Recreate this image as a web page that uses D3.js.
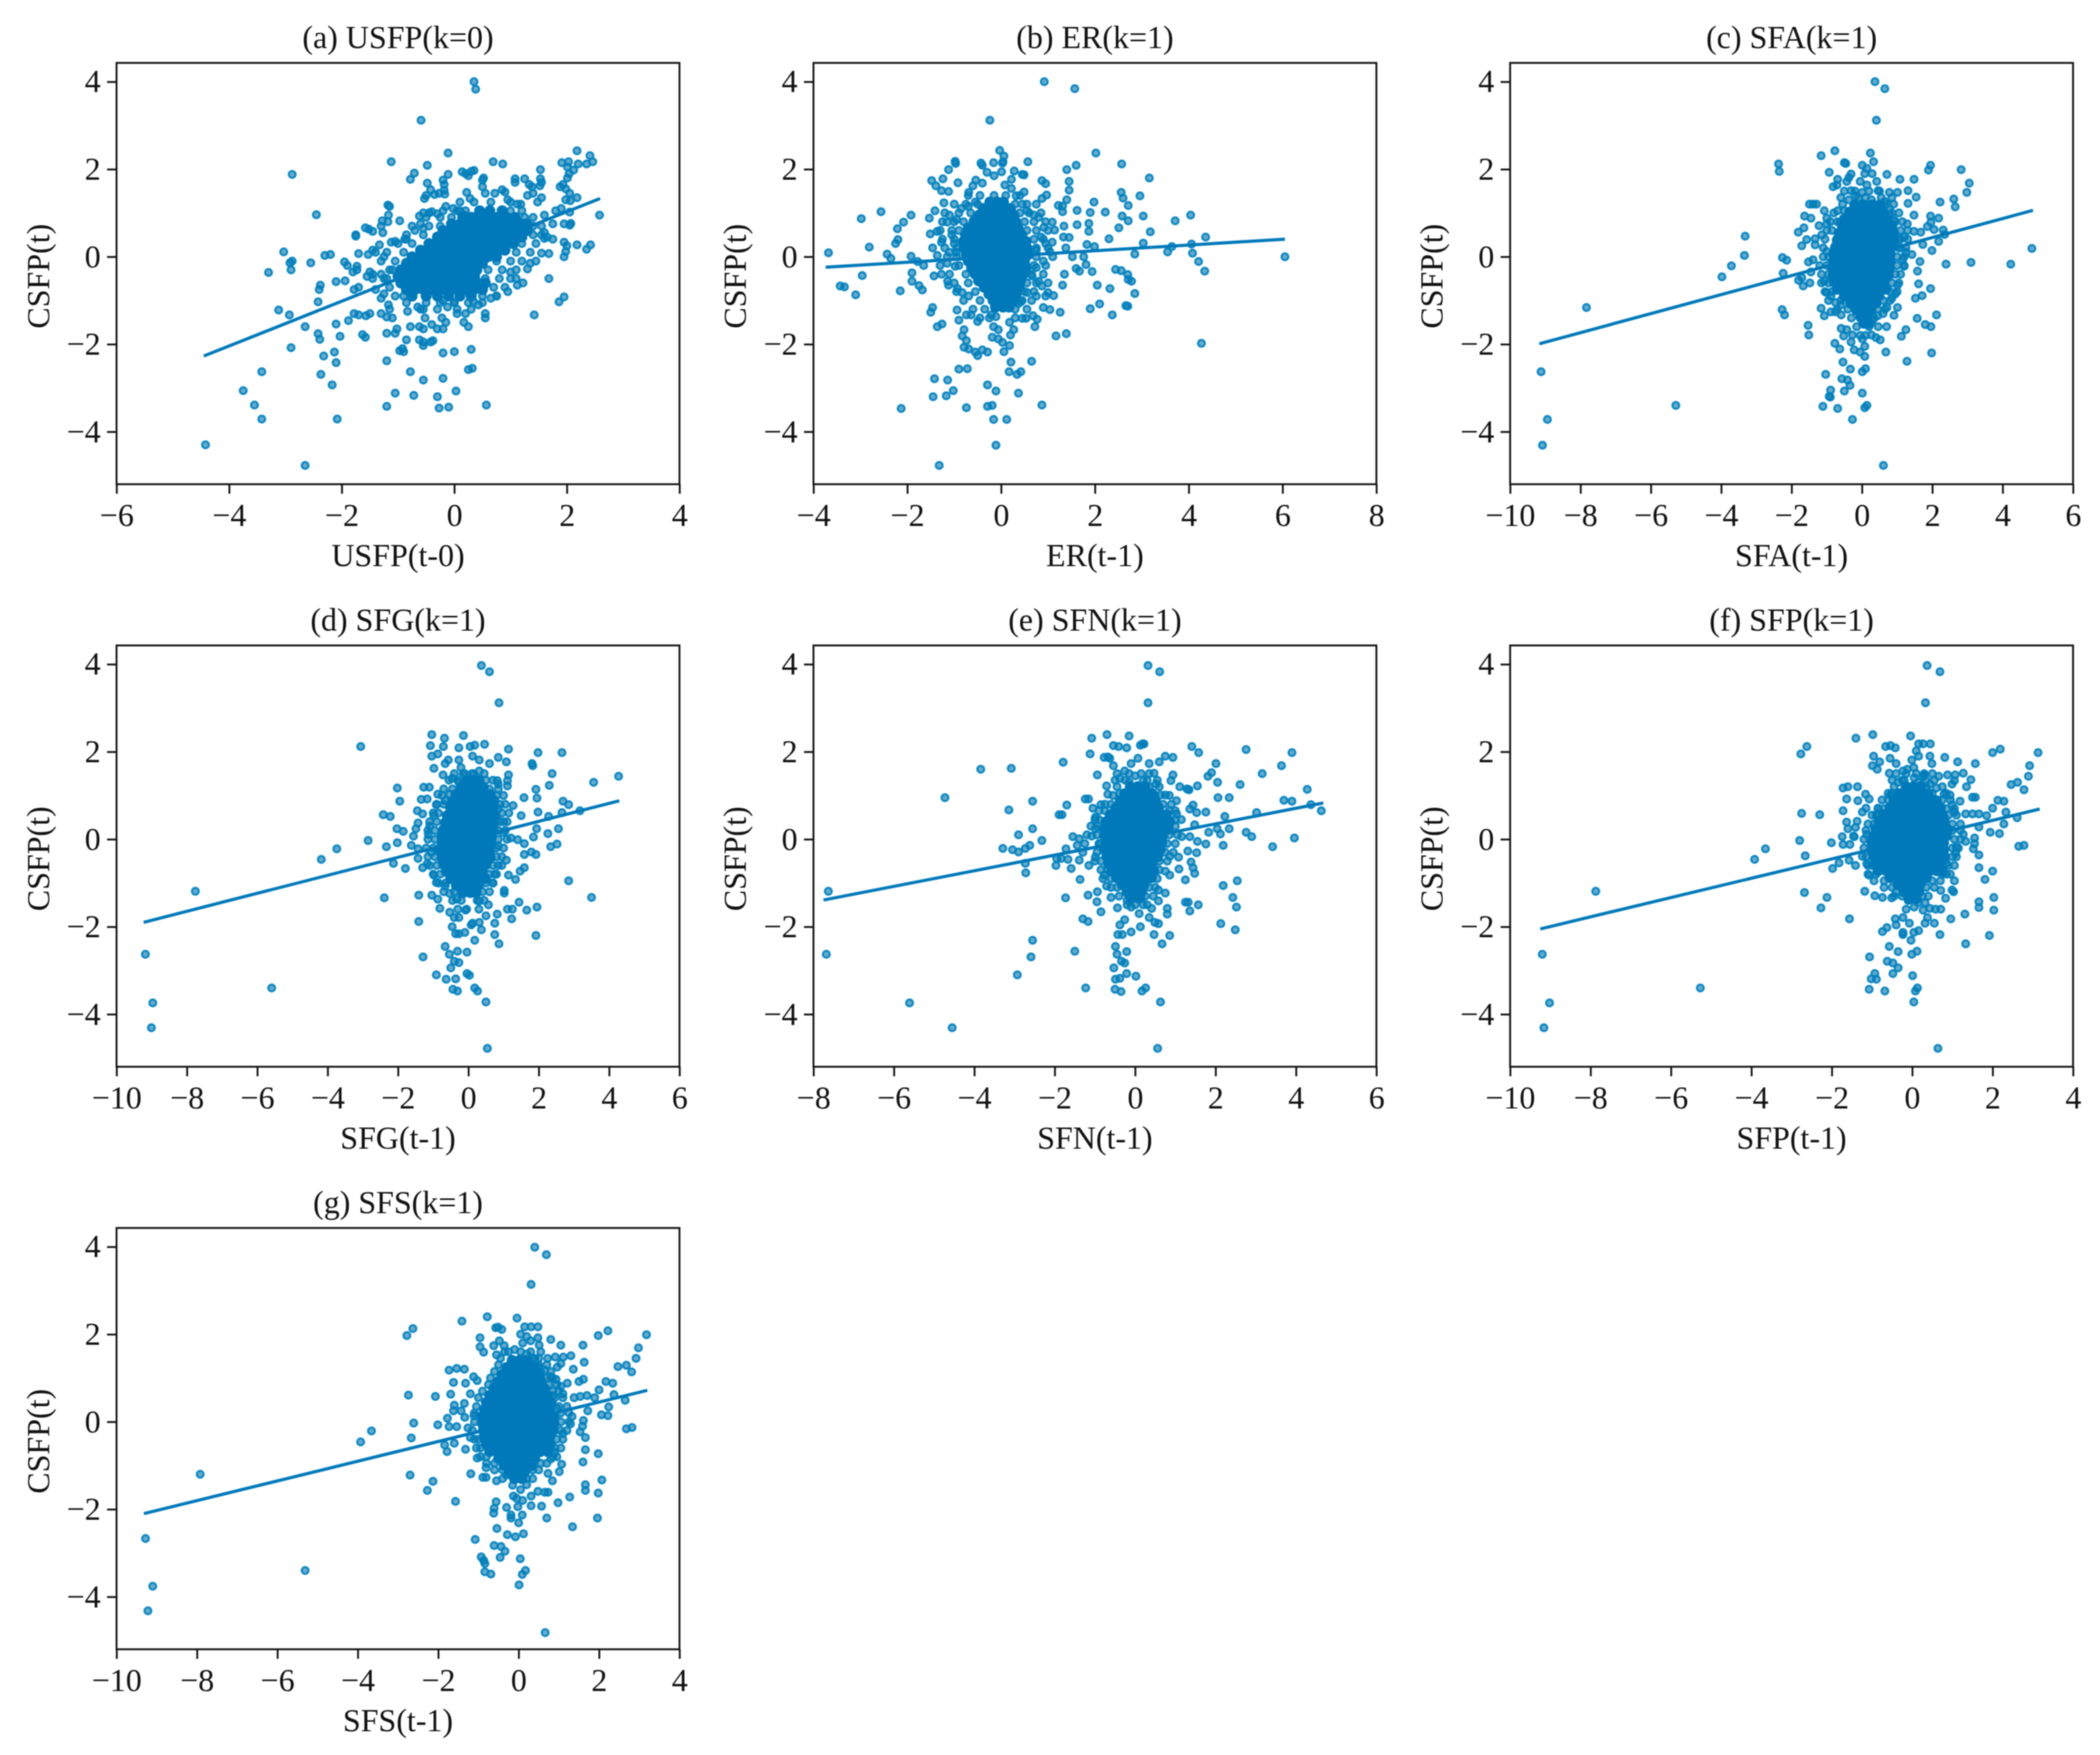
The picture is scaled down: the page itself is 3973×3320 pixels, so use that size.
<!DOCTYPE html>
<html lang="en">
<head>
<meta charset="UTF-8">
<title>CSFP scatter panels</title>
<script src="https://d3js.org/d3.v7.min.js"></script>
<style>
    body { margin: 0; background: #fff; }
    svg { filter: blur(1.1px); }
    text { font-family: "Liberation Serif", serif; fill: #111; }
</style>
</head>
<body>
<svg id="chart" width="3973" height="3320"></svg>
<script>
// values: [x, y]
const pointsA = [[-4.42,-4.3],[-3.75,-3.06],[-3.55,-3.39],[-3.42,-2.63],[-3.42,-3.71],[-2.65,-4.77],[-2.08,-3.71],[-2.17,-2.93],[-2.37,-2.69],[-2.1,-2.42],[-2.13,-2.18],[-2.32,-2.27],[-2.9,-2.08],[-2.65,-1.6],[-2.42,-1.76],[-2.39,-1.89],[-2.1,-1.54],[-2.03,-1.82],[-1.63,-1.78],[-1.58,-1.84],[-3.12,-1.22],[-2.93,-1.33],[-2.42,-1.03],[-1.88,-1.46],[-1.78,-1.3],[-1.7,-1.33],[-1.57,-1.35],[-1.5,-1.3],[-3.3,-.36],[-3.03,.11],[-2.92,-.14],[-2.9,-.3],[-2.88,-.1],[-2.55,-.14],[-2.4,-.75],[-2.38,-.65],[-2.3,.03],[-2.2,.05],[-2.1,-.57],[-1.94,-.55],[-1.95,-.12],[-1.9,-.2],[-1.78,-.75],[-1.73,-.3],[-1.7,-.7],[-1.73,-.22],[-1.8,-.35],[-2.45,.96],[-1.75,.47],[-1.75,.5],[-1.58,.66],[-1.52,.63],[-1.45,.58],[-1.7,.07],[-.59,3.12],[.35,4],[.38,3.83],[-.11,2.37],[-1.12,2.17],[-.48,2.09],[-2.88,1.88],[-.71,1.91],[-.78,1.77],[-.11,1.88],[.69,2.17],[.86,2.12],[2.18,2.42],[2.41,2.31],[2.46,2.17],[2.35,2.12],[2.2,2.12],[2.03,2.17],[1.91,2.15],[2.01,2.05],[1.53,1.99],[2.12,1.98],[2.04,1.9],[2.01,1.8],[.14,1.94],[.2,1.9],[.3,1.95],[.35,1.97],[.25,1.85],[.5,1.75],[.52,1.8],[1.08,1.78],[1.08,1.7],[1.25,1.78],[1.33,1.65],[1.38,1.6],[1.53,1.78],[1.55,1.7],[1.52,1.62],[1.93,1.65],[1.88,1.6],[1.98,1.55],[2.05,1.45],[2.18,1.35],[1.98,1.3],[2.06,1.28],[-.48,1.68],[-.42,1.53],[-.2,1.75],[-.18,1.65],[-.18,1.52],[-.17,1.43],[-.5,1.4],[-.53,1.33],[-.35,1.42],[-.27,1.45],[.22,1.47],[.28,1.33],[.5,1.6],[.55,1.45],[.72,1.45],[.85,1.53],[.9,1.48],[.95,1.3],[1.12,1.2],[1.18,1.2],[1.3,1.4],[1.4,1.45],[1.55,1.35],[1.48,1.25],[1.8,1.05],[1.9,1.1],[2.05,1.02],[1.6,.95],[1.75,.75],[1.95,.75],[2.05,.72],[2.07,.76],[1.55,.7],[1.6,.55],[1.65,.45],[1.75,.4],[1.6,.42],[1.95,.33],[2,.25],[2.18,.27],[2.42,.27],[2.35,.17],[1.98,.12],[1.95,0],[2.58,.95],[1.55,.08],[1.68,.07],[1.45,-.1],[1.35,-.15],[1.3,-.28],[1.68,-.5],[1.95,-.92],[1.86,-1.03],[1.42,-1.33],[1.22,-.6],[1.12,-.65],[1.1,-.5],[1,-.35],[.95,-.8],[.75,-.9],[.65,-.95],[.55,-1.3],[.55,-1.4],[.43,-1.1],[.34,-1.02],[.2,-1.3],[.17,-1.5],[.25,-1.6],[.05,-1.3],[0,-1.05],[-.12,-1.15],[-.2,-1],[-.15,-1.5],[-.22,-1.4],[-.2,-1.65],[-.3,-1.65],[-.4,-1.55],[-.52,-1.4],[-.55,-1.65],[-.62,-1.6],[-.78,-1.6],[-.83,-1.25],[-.65,-1.15],[-.6,-1.2],[-1.02,-1.65],[-1.05,-1.75],[-1.2,-1.75],[-.85,-1.9],[-.62,-1.9],[-.55,-1.95],[-.55,-2.03],[-.42,-1.95],[-.38,-1.92],[-.92,-2.1],[-.97,-2.15],[-.9,-2.17],[-.2,-2.2],[0,-2.17],[.3,-2.12],[-1.2,-2.38],[-.78,-2.63],[.25,-2.58],[.32,-2.55],[-.55,-2.82],[-.2,-2.78],[-1.05,-3.12],[-.72,-3.17],[.03,-3.07],[-.3,-3.2],[-1.2,-3.42],[-.27,-3.46],[-.1,-3.44],[.57,-3.39],[-1.2,-1.38],[-1.15,-1.2],[-1.3,-1.3],[-1.25,-.85],[-1.17,-1.1],[-1.3,-.95],[-1.1,-1.4],[-1.15,1.15],[-1.18,1.18],[-1.17,.95],[-1.28,.82],[-1.3,.7],[-1.27,.55],[-1.18,.8],[-.97,.82],[-1.05,.35],[-1.12,.33],[-.85,.4],[-.88,.4],[-1.25,0],[-1.4,.1],[-1.45,.15],[-1.33,.27],[-1.53,.05],[-.62,.93],[-.6,.75],[-.55,.65],[-.7,.6],[-.55,1],[-.45,1],[-.4,1.03],[-.3,.98],[-.15,1.15],[-.02,1.1],[.1,1.05],[.18,.95],[-1.5,-.35],[-1.45,-.4],[-1.55,-.45],[-1.4,-.75],[-1.45,-.5],[-1.3,-.4],[-1.2,-.5],[-1.1,-.3]];
const haloA = [[1.25,[.1,.35,.65,1]],[1.05,[-.2,.05,.2,1,1.2]],[.9,[-.5,-.25,-.05,1.25,1.4]],[.7,[-.75,-.45,-.25,1.4]],[.5,[-.85,-.55,1.4,1.55]],[.3,[-1,-.75,1.2,1.45]],[.1,[-1.2,-.9,1.1,1.35]],[-.1,[-1.3,-1.05,.75,1,1.2]],[-.3,[-1.15,.6,.85,1.1]],[-.5,[-1.25,.55,.8,1]],[-.7,[-1.15,.7,.9]],[-.9,[-1.05,-.9,.5,.75]],[-1.05,[-.85,-.5,-.25,0,.25,.5]],[-1.2,[-.55,-.3,.05,.3]]];
const coreA = [[1.05,[.45,.63,.85]],[.9,[.15,.31,.46,.6,.77,.92,1.08]],[.75,[-.05,.1,.26,.4,.55,.71,.85,1,1.16,1.28]],[.6,[-.2,-.04,.1,.25,.41,.55,.7,.86,1,1.15,1.3]],[.45,[-.3,-.15,.01,.15,.3,.46,.6,.75,.91,1.05,1.2]],[.3,[-.45,-.29,-.15,0,.16,.3,.45,.61,.75,.9,1.05]],[.15,[-.6,-.45,-.3,-.14,0,.15,.31,.45,.6,.76,.9]],[0,[-.75,-.6,-.44,-.3,-.15,.01,.15,.3,.46,.6,.75]],[-.15,[-.85,-.7,-.55,-.39,-.25,-.1,.06,.2,.35,.5]],[-.3,[-.95,-.8,-.64,-.5,-.35,-.19,-.05,.1,.26,.4]],[-.45,[-1,-.85,-.7,-.54,-.4,-.25,-.09,.05,.2,.36]],[-.6,[-.95,-.8,-.65,-.49,-.35,-.2,-.04,.1,.25,.41,.55]],[-.75,[-.85,-.7,-.55,-.4,-.24,-.1,.05,.21,.35,.5]],[-.9,[-.75,-.5,-.3,-.1,.1,.3]]];

const pointsB = [[-3.68,.09],[-2.98,.87],[-2.81,.22],[-2.56,1.03],[-2.43,.06],[-2.35,-.04],[-2.25,.3],[-2.2,.39],[-2.21,.64],[-2.08,.79],[-1.92,.95],[-1.92,.01],[-2.96,-.43],[-3.43,-.67],[-3.34,-.69],[-3.1,-.87],[-2.15,-.78],[-1.9,-.37],[-1.9,-.56],[-1.75,-.66],[-1.68,-.76],[-1.78,-.11],[-1.65,-.2],[-2.13,-3.47],[-1.45,-3.2],[-1.42,-2.79],[-1.14,-2.82],[-1.17,-3.18],[-1.02,-3.06],[-.9,-2.57],[-.72,-2.56],[-.74,-3.45],[-.29,-2.93],[-.11,-3.07],[-.29,-3.42],[-.19,-3.4],[-.16,-3.72],[.12,-3.72],[-.11,-4.31],[-1.32,-4.77],[.37,-3.12],[.87,-3.39],[.17,-2.63],[.21,-2.41],[.34,-2.69],[.42,-2.63],[.65,-2.39],[4.27,-1.98],[.92,4],[1.57,3.84],[-.24,3.12],[2.02,2.37],[-.03,2.43],[.06,2.3],[.04,2.17],[.03,2.14],[-.16,2.15],[-.43,2.14],[-.4,2.09],[-.98,2.18],[-.97,2.13],[-1.12,1.99],[.57,2.17],[1.6,2.09],[2.57,2.12],[1.4,1.99],[.28,1.96],[.45,1.88],[.49,1.87],[.01,1.94],[-.3,1.93],[-.15,1.85],[3.16,1.8],[.87,1.74],[.95,1.67],[1.45,1.72],[1.45,1.52],[-1.48,1.74],[-1.24,1.78],[-.92,1.69],[-.54,1.75],[-.4,1.68],[-.6,1.62],[-1.39,1.62],[-1.27,1.51],[-1.12,1.49],[-.69,1.47],[.49,1.48],[.22,1.77],[.08,1.64],[.22,1.56],[.32,1.39],[.97,1.41],[2.56,1.47],[2.6,1.34],[2.96,1.39],[2.71,1.17],[1.98,1.25],[1.4,1.3],[.87,1.33],[1.22,1.17],[1.31,1.16],[1.62,1.06],[1.31,1.03],[1.9,1.01],[2.22,1.02],[2.58,.93],[3.03,.93],[2.71,.82],[3.71,.82],[4.04,.95],[3.18,.57],[2.51,.66],[1.87,.76],[1.62,.73],[1.34,.7],[1.09,.79],[.91,.67],[1.14,.61],[1.87,.58],[2.3,.41],[1.45,.44],[1.33,.45],[1.83,.28],[1.99,.23],[3.03,.31],[1.09,.33],[3.64,.23],[4.36,.45],[4.06,.29],[3.55,.11],[4.08,.08],[2.85,.06],[4.21,-.11],[4.34,-.33],[6.05,0],[1.76,0],[1.52,0],[1.38,.2],[1.04,.11],[1.81,-.18],[1.94,-.34],[1.67,-.33],[1.6,-.27],[1.35,-.4],[2.44,-.29],[2.56,-.32],[2.7,-.41],[2.71,-.52],[2.78,-.56],[2.05,-.65],[2.32,-.73],[2.85,-.84],[1.31,-.65],[1.12,-.89],[2.1,-1.08],[1.9,-1.19],[2.66,-1.12],[2.7,-1.13],[2.37,-1.33],[1.26,-1.27],[1.04,-1.21],[.9,-1.16],[1.17,-1.81],[1.39,-1.76],[-1.53,.88],[-1.41,1.05],[-1.22,1.23],[-1.15,.79],[-1.51,.52],[-1.36,.58],[-1.46,.2],[-1.27,.33],[-1.36,.03],[-1.43,-.44],[-1.27,-.4],[-1.14,-.56],[-1.12,-.65],[-.93,-.73],[-.83,-.82],[-.69,-.9],[-.98,-.22],[-1.46,-1.16],[-1.5,-1.27],[-.94,-1.22],[-.9,-1.45],[-1.36,-1.6],[-1.26,-1.54],[-.79,-1.67],[-.83,-1.81],[-.74,-1.92],[-.79,-2.07],[-.69,-2.11],[-.5,-2.26],[-.55,-2.18],[-.4,-2.13],[-.29,-2.18],[-.74,-1.33],[-.64,-1.33],[-.5,-1.48],[-.21,-1.33],[-.11,-1.37],[-.16,-1.6],[-.06,-1.67],[-.19,-1.84],[-.06,-1.88],[.03,-1.96],[.2,-1.79],[.06,-2.17],[.18,-2.03],[.27,-1.67],[.18,-1.5],[.45,-1.41],[.53,-1.41],[.68,-1.35],[.77,-1.43],[.72,-1.6],[.37,-1.07],[.42,-1.03],[.56,-.82],[.75,-.9],[.87,-.67],[.95,-.9],[1,-.82],[.66,-.44],[.8,-.56],[-1.1,.95],[-.95,.85],[-.85,1.1],[-.7,1.15],[-.55,1.25],[.45,1.2],[.55,1.05],[.7,.95],[.8,.9],[.85,.45],[.95,.3],[.75,.15],[.9,-.1],[.75,-.25],[-1.05,.5],[-.95,.1],[-1,.3],[-1.1,.1],[-1.15,-.15]];
const haloB = [[1.4,[-.7,-.45,-.15,.1,.4]],[1.2,[-1,-.75,-.5,.3,.55,.75]],[1,[-1.2,-.9,-.65,.4,.6,.85]],[.8,[-1.25,-1,-.8,.5,.7,.95]],[.6,[-1.3,-1.05,-.9,.55,.75,1]],[.4,[-1.25,-1,.7,.9]],[.2,[-1.2,-.95,.75,1]],[0,[-1.15,-.95,.75,1.1]],[-.2,[-1.3,-.9,.7,.95]],[-.4,[-1.1,-.75,.65,.9]],[-.6,[-1,-.7,.55,.75,1]],[-.8,[-.95,-.55,.5,.7]],[-1,[-.8,-.45,.45,.65]],[-1.2,[-.6,-.35,.3,.55]],[-1.4,[-.45,-.25,.3]]];
const coreB = [[1.25,[-.24,-.09,.05]],[1.1,[-.38,-.22,-.08,.08,.2]],[.95,[-.47,-.33,-.18,-.03,.11,.27]],[.8,[-.58,-.43,-.29,-.13,.01,.16,.31]],[.65,[-.7,-.54,-.4,-.25,-.1,.06,.2,.36]],[.5,[-.76,-.61,-.47,-.31,-.17,-.01,.13,.28,.44]],[.35,[-.8,-.65,-.5,-.36,-.2,-.06,.1,.24,.39,.53]],[.2,[-.78,-.63,-.48,-.34,-.18,-.04,.11,.26,.41,.55]],[.05,[-.74,-.59,-.45,-.29,-.15,0,.16,.3,.46,.58]],[-.1,[-.7,-.55,-.4,-.26,-.1,.04,.2,.34,.5]],[-.25,[-.63,-.48,-.33,-.19,-.03,.11,.26,.41,.53]],[-.4,[-.55,-.4,-.26,-.1,.04,.19,.34,.47]],[-.55,[-.48,-.33,-.18,-.04,.12,.26,.41]],[-.7,[-.36,-.21,-.06,.08,.24,.38]],[-.85,[-.26,-.11,.04,.18,.32]],[-1,[-.17,-.02,.13,.27]],[-1.15,[-.12,.04,.17]]];

const pointsC = [[.37,4],[.65,3.84],[.41,3.12],[.24,2.37],[-.77,2.42],[-1.16,2.31],[-2.37,2.12],[-2.35,1.95],[-.5,2.15],[-.46,2.13],[.33,2.17],[.01,2.09],[-.93,1.93],[-.69,1.77],[-.82,1.6],[-.71,1.64],[.71,1.88],[1.08,1.77],[1.48,1.77],[1.95,2.09],[1.89,1.98],[2.82,1.99],[3.05,1.68],[2.98,1.47],[2.61,1.32],[2.65,1.14],[2.22,1.25],[1.31,1.51],[1.54,1.36],[1.31,1.22],[1.01,1.47],[.78,1.47],[.65,1.26],[1.48,.95],[1.95,.93],[2.18,.88],[1.29,.75],[1.96,.79],[1.86,.69],[2.05,.62],[2.31,.61],[2.35,.51],[2.18,.35],[1.48,.58],[1.67,.56],[1.73,.28],[1.99,.14],[1.42,.05],[1.65,-.11],[2.39,-.17],[3.1,-.13],[4.23,-.17],[4.83,.19],[1.58,-.33],[1.61,-.62],[1.95,-.73],[1.71,-.89],[1.52,-.95],[1.01,-.65],[1.2,-.22],[1.16,-.06],[1.01,-1.16],[.91,-1.34],[.71,-1.16],[1.57,-1.41],[2.12,-1.33],[1.8,-1.55],[1.96,-1.6],[1.25,-1.67],[1.12,-1.82],[.7,-1.6],[.46,-1.6],[.68,-2.18],[1.98,-2.2],[1.28,-2.39],[.52,-1.9],[.27,-1.79],[-3.98,-.46],[-3.71,-.21],[-3.34,.03],[-3.32,.47],[-7.83,-1.16],[-9.12,-2.63],[-8.94,-3.72],[-9.08,-4.31],[-5.29,-3.4],[-2.26,-.02],[-2.14,-.08],[-2.24,-.38],[-2.27,-1.21],[-2.2,-1.33],[-1.53,-1.57],[-1.51,-1.79],[-1.81,.56],[-1.65,.66],[-1.63,.93],[-1.45,.88],[-1.49,1.2],[-1.39,1.2],[-1.29,1.2],[-1.71,.25],[-1.57,.39],[-1.33,.41],[-1.33,.27],[-1.8,-.54],[-1.71,-.48],[-1.67,-.67],[-1.48,-.6],[-1.52,-.12],[-1.39,-.07],[-1.45,-.35],[-1.16,-1.18],[-1.07,-1.35],[-.88,-1.26],[-.75,-1.26],[-.59,-1.33],[-1.07,1.05],[-1,.88],[-1.22,.71],[-1.14,.5],[-1,.75],[-1,.12],[-1.07,-.56],[-1,-.82],[-.88,-.9],[-.59,-1.64],[-.52,-1.81],[-.77,-1.98],[-.63,-2.11],[-.43,-1.67],[-.27,-1.79],[-.31,-1.95],[-.22,-2.13],[-.05,-2.18],[.08,-2.05],[.08,-2.28],[.01,-1.88],[.4,-1.85],[-.54,-2.41],[-.33,-2.57],[.1,-2.56],[.01,-2.63],[-1.03,-2.69],[-.57,-2.79],[-.41,-2.82],[-.34,-2.94],[-.5,-3.07],[-.89,-3.05],[-.93,-3.19],[-.9,-3.21],[.01,-3.12],[-1.11,-3.42],[-.69,-3.47],[.14,-3.4],[.08,-3.45],[-.27,-3.72],[.61,-4.77],[-.37,1.81],[-.31,1.89],[-.43,1.72],[-.31,1.51],[-.37,1.3],[.29,1.9],[.42,1.72],[.46,1.51],[.14,1.64],[.01,1.47],[.27,1.3],[-.18,1.39],[.14,2.02],[.08,1.9],[-.05,1.72],[.78,.96],[.91,.84],[.78,1.09],[-.69,1.05],[-.5,1.05],[-.62,.79],[1.05,.4],[1.2,.45],[1.1,.2],[1.25,.1],[.95,-.85],[.85,-.95],[.6,-1.3],[.45,-1.35],[.3,-1.45],[-.75,-1.05],[-.6,-1.1]];
const haloC = [[1.5,[-.5,-.2,.2,.5]],[1.35,[-.6,-.1,.1,.55,.85]],[1.2,[-.55,.7,.9]],[1,[-.8,.85,1.05]],[.8,[-.9,-.7,.95,1.15]],[.6,[-1,-.85,1.1,1.3]],[.4,[-1.05,1.1,1.3]],[.2,[-1.1,1.05,1.25]],[0,[-1.1,-.95,1,1.2]],[-.2,[-1.2,-1,1,1.2]],[-.4,[-1.15,-.95,.95,1.1]],[-.6,[-1.15,-.95,.85,1.05]],[-.8,[-1.05,-.85,.8,1]],[-1,[-.95,-.6,.6,.8]],[-1.2,[-.7,-.4,.45,.65]],[-1.4,[-.3,.35]],[-1.6,[-.15,.2]],[-1.8,[-.05,.1]]];
const coreC = [[1.18,[-.2,.04,.3,.5]],[1.02,[-.35,-.14,.05,.26,.45,.6]],[.86,[-.5,-.29,-.1,.11,.3,.51,.7]],[.7,[-.55,-.34,-.15,.06,.25,.46,.65,.85]],[.54,[-.65,-.44,-.25,-.04,.15,.36,.55,.75,.9]],[.38,[-.7,-.49,-.3,-.09,.1,.31,.5,.71,.9]],[.22,[-.75,-.54,-.35,-.14,.05,.26,.45,.66,.85]],[.06,[-.8,-.59,-.4,-.19,0,.21,.4,.61,.8]],[-.1,[-.8,-.59,-.4,-.19,0,.21,.4,.61,.8]],[-.26,[-.82,-.61,-.42,-.21,-.02,.19,.38,.59,.78]],[-.42,[-.82,-.61,-.42,-.21,-.02,.19,.38,.59,.75]],[-.58,[-.78,-.57,-.38,-.17,.02,.23,.42,.63]],[-.74,[-.7,-.49,-.3,-.09,.1,.31,.5,.68]],[-.9,[-.5,-.29,-.1,.11,.3,.48]],[-1.06,[-.32,-.12,.09,.28,.4]],[-1.22,[-.15,.06,.25]],[-1.38,[-.03,.16]],[-1.52,[.05,.2]]];

const pointsD = [[.37,3.97],[.6,3.83],[.87,3.12],[-.14,2.37],[-1.04,2.39],[-.68,2.31],[-1.08,2.14],[-.71,2.12],[-3.06,2.12],[-1.04,1.9],[-.87,1.95],[-.27,2.09],[.05,2.12],[.18,2.15],[.46,2.17],[1.14,2.06],[1.98,1.98],[2.66,1.98],[.85,1.87],[1.08,1.77],[1.81,1.73],[1.83,1.68],[-.98,1.62],[-.66,1.73],[-.57,1.81],[-.72,1.47],[-.27,1.81],[.12,1.9],[.31,1.81],[.6,1.73],[.31,1.56],[-.21,1.64],[-.46,1.39],[-.27,1.3],[1.14,1.47],[1.11,1.34],[.82,1.34],[.85,1.26],[1.11,1.22],[2.38,1.5],[2.3,1.23],[3.56,1.3],[4.27,1.44],[1.92,1.14],[1.58,.95],[1.95,.94],[2.69,.87],[2.85,.79],[3.17,.65],[2.66,.61],[2.28,.52],[1.98,.62],[1.27,.77],[1.5,.54],[2.56,.24],[2.26,.13],[1.94,.24],[1.85,.05],[2.52,-.11],[2.34,-.17],[1.92,-.35],[1.59,-.35],[1.79,-.29],[1.59,-.1],[1.21,.03],[1.4,-.01],[1.08,-.48],[1.59,-.65],[1.47,-.73],[1.14,-.82],[1.34,-.92],[2.85,-.95],[3.5,-1.33],[1.02,-1.17],[1.02,-1.23],[1.44,-1.44],[1.66,-1.62],[1.95,-1.55],[1.25,-1.6],[1.11,-1.6],[1.23,-1.82],[.82,-1.71],[.75,-1.92],[.75,-2.18],[.87,-2.39],[1.92,-2.2],[.37,-2.07],[.18,-2.31],[.5,-1.75],[.57,-1.5],[.31,-1.41],[.12,-1.92],[.31,-1.9],[-.08,-1.62],[-4.18,-.46],[-3.74,-.22],[-2.85,-.03],[-7.76,-1.19],[-9.18,-2.63],[-8.97,-3.74],[-9.01,-4.31],[-5.59,-3.4],[-2.42,.56],[-2.22,.52],[-2.03,.24],[-1.85,.18],[-2.02,1.17],[-1.95,.87],[-2.02,-.08],[-2.33,-.17],[-2.13,-.55],[-1.79,-.67],[-2.39,-1.34],[-1.41,-1.28],[-1.41,-1.88],[-1.29,-2.69],[-1.27,1.19],[-1.11,1.19],[-1.34,.91],[-1.17,.92],[-.87,1.03],[-1.45,.65],[-1.3,.58],[-1.43,.37],[-1.49,.24],[-1.14,.11],[-1.56,.07],[-1.62,-.14],[-1.43,-.22],[-1.43,-.44],[-1.3,-.65],[-1.17,-.56],[-.91,.79],[-.98,.54],[-.66,.88],[-.53,1.03],[-.98,-.82],[-.91,-.99],[-1.04,-1.28],[-.87,-1.37],[-.81,-1.58],[-.66,-1.07],[-.53,-1.24],[-.33,-1.37],[-.53,-1.67],[-.4,-1.79],[-.27,-1.79],[-.46,-2],[-.36,-2.16],[-.1,-2.13],[-.27,-2.16],[.08,-1.96],[-.66,-2.45],[-.54,-2.63],[-.31,-2.56],[-.04,-2.58],[-.4,-2.79],[-.27,-2.82],[-.5,-2.94],[-.91,-3.1],[-.04,-3.07],[.03,-3.11],[-.63,-3.2],[-.36,-3.19],[-.44,-3.43],[-.31,-3.47],[.18,-3.4],[.26,-3.47],[.5,-3.72],[.54,-4.78],[.75,.9],[.85,.7],[1,.4],[1,.15],[.85,-.6],[.75,-.8],[.7,-1],[.85,-.15],[-.1,1.5],[.1,1.5],[-1.1,.3],[-1.05,-.3]];
const haloD = [[1.5,[-.4,-.15,.15,.45]],[1.35,[-.55,-.3,.5,.7]],[1.15,[-.7,-.45,.6,.85]],[1,[-.75,.8,1]],[.8,[-.9,-.7,.9,1.05]],[.6,[-1,-.85,.95,1.15]],[.4,[-1.1,-.9,.9,1.1]],[.2,[-1.15,-.95,.85,1.05]],[0,[-1.15,-.95,.85,1.1]],[-.2,[-1.2,-1,.8,1]],[-.4,[-1.15,-.95,.8,.95]],[-.6,[-1.1,-.9,.7,.95]],[-.8,[-1,-.8,.6,.8]],[-1,[-.85,-.65,.5,.7]],[-1.2,[-.7,-.4,.4,.6]],[-1.4,[-.45,-.2,.25,.45]],[-1.6,[-.3,-.05,.3]]];
const coreD = [[1.34,[-.05,.1,.3]],[1.18,[-.2,.02,.22,.42]],[1.02,[-.35,-.14,.06,.27,.46,.62]],[.86,[-.45,-.24,-.05,.16,.35,.56,.72]],[.7,[-.5,-.29,-.1,.11,.3,.51,.7]],[.54,[-.6,-.39,-.2,.01,.2,.41,.6,.76]],[.38,[-.65,-.44,-.25,-.04,.15,.36,.55,.72]],[.22,[-.7,-.49,-.3,-.09,.1,.31,.5,.7]],[.06,[-.75,-.54,-.35,-.14,.05,.26,.45,.66]],[-.1,[-.75,-.54,-.35,-.14,.05,.26,.45,.62]],[-.26,[-.8,-.59,-.4,-.19,0,.21,.4,.6]],[-.42,[-.75,-.54,-.35,-.14,.05,.26,.45,.62]],[-.58,[-.7,-.49,-.3,-.09,.1,.31,.5]],[-.74,[-.62,-.41,-.22,-.01,.18,.39]],[-.9,[-.5,-.29,-.1,.11,.3,.48]],[-1.06,[-.34,-.13,.08,.28]],[-1.22,[-.15,.06,.22]]];

const pointsE = [[.32,3.97],[.61,3.83],[.32,3.12],[-.7,2.39],[-.15,2.36],[-1.08,2.31],[-.54,2.14],[-.41,2.12],[-.21,2.09],[.13,2.15],[.19,2.18],[.22,2.18],[-1.12,1.95],[-.77,1.87],[-.68,1.88],[-.63,1.85],[1.41,2.12],[1.58,1.98],[2.76,2.05],[3.9,1.98],[3.64,1.68],[3.16,1.5],[2.01,1.73],[1.9,1.52],[1.81,1.44],[2.05,1.3],[1.55,1.22],[2.61,1.25],[.75,1.9],[.94,1.87],[.6,1.77],[.94,1.47],[.89,1.34],[1.11,1.2],[1.29,1.15],[1.34,1.13],[2.06,.95],[2.34,.95],[4.28,1.14],[3.7,.89],[3.9,.87],[4.37,.79],[4.63,.65],[3.02,.61],[2.23,.52],[1.03,.88],[1.44,.78],[1.36,.69],[1.76,.62],[1.53,.61],[1.03,.58],[.8,.45],[2.04,.24],[2.34,.24],[1.83,.16],[2.12,.12],[1.48,.33],[1.16,.06],[1.36,.06],[2.76,.16],[2.9,.06],[3.96,.03],[3.42,-.17],[1.55,-.05],[1.76,-.11],[2.19,-.14],[1.31,-.27],[1.53,-.31],[1.08,-.41],[1.39,-.52],[1.44,-.65],[1.48,-.78],[1.09,-.68],[.86,-.39],[.75,-.73],[.86,-.82],[1.25,-.93],[2.54,-.95],[2.19,-1.06],[2.43,-1.33],[2.52,-1.55],[2.13,-1.93],[2.49,-2.07],[1.25,-1.44],[1.32,-1.44],[1.57,-1.5],[1.36,-1.64],[.8,-1.58],[.8,-1.71],[.75,-1.23],[.58,-1.16],[.58,-1.41],[.49,-1.9],[.58,-1.93],[.86,-2.2],[.47,-2.18],[.67,-2.39],[.35,-1.79],[.41,-1.58],[.13,-2],[-.1,-2.12],[-7.63,-1.19],[-7.68,-2.63],[-5.61,-3.74],[-4.55,-4.31],[-4.73,.95],[-3.84,1.6],[-3.08,1.62],[-3.14,.67],[-2.55,.87],[-2.55,.24],[-2.9,.1],[-3.29,-.21],[-3.05,-.24],[-2.9,-.29],[-2.73,-.21],[-2.62,-.14],[-2.32,-.03],[-2.73,-.55],[-2.72,-.77],[-2.55,-2.31],[-2.59,-2.69],[-2.93,-3.1],[-1.79,1.76],[-1.7,.78],[-1.89,.56],[-1.82,.56],[-1.24,.92],[-1.16,.92],[-.94,1.47],[-1.55,.06],[-1.39,.01],[-1.72,-.22],[-1.95,-.44],[-1.97,-.6],[-1.84,-.44],[-1.67,-.46],[-1.59,-.67],[-1.39,-.48],[-1.44,-.14],[-1.15,-.6],[-1.37,-.92],[-1.73,-1.34],[-1.17,-1.28],[-.94,-1.2],[-.95,-1.43],[-.85,-1.66],[-1.3,-1.82],[-1.17,-1.88],[-1.05,.71],[-.99,.5],[-.99,.24],[-1.08,.07],[-.88,-.1],[-.99,-.41],[-.77,-.82],[-.71,-1.07],[-.6,-1.33],[-.44,-1.57],[-.71,1.22],[-.68,1.03],[-.85,.79],[-.54,1.68],[-.38,1.39],[-.26,1.56],[-.1,1.73],[.07,1.85],[.35,1.73],[.47,1.51],[.52,1.26],[.63,1.01],[.75,1.01],[-.38,1.05],[-1.5,-2.56],[-1.23,-3.4],[-.49,-2.45],[-.45,-2.63],[-.21,-2.57],[-.34,-2.79],[-.26,-2.83],[-.53,-2.94],[-.21,-3.07],[.02,-3.13],[-.49,-3.2],[-.38,-3.18],[-.5,-3.43],[-.35,-3.48],[.17,-3.47],[.26,-3.4],[.63,-3.72],[.56,-4.78],[-.38,-1.96],[-.43,-2.18],[-.32,-2.18],[-.26,-1.84],[0,1.45],[.2,1.35],[-.15,1.3],[.3,-1.5],[.1,-1.7],[-.1,-1.55],[-.2,-1.4],[.15,-1.35]];
const haloE = [[1.5,[-.45,-.15,.15,.35]],[1.35,[-.5,-.25,.3,.55]],[1.2,[-.45,.35,.6]],[1,[-.55,.5,.85]],[.8,[-.75,-.6,.7,.9]],[.65,[-.9,-.75,.85,1]],[.45,[-1,-.9,1,1.15]],[.3,[-1.1,-.95,1]],[.1,[-1.2,-.95,.85,1.05]],[-.1,[-1.25,-.9,.8,1]],[-.3,[-1.3,-.95,.75,.95]],[-.5,[-1,-.85,.6,.8]],[-.7,[-.85,-.7,.6]],[-.9,[-.8,-.6,.55]],[-1.1,[-.6,-.45,.35,.5]],[-1.3,[-.4,.25,.45]],[-1.5,[-.2,0,.2]]];
const coreE = [[1.2,[-.12,.06,.24]],[1.04,[-.26,-.08,.1,.28,.42]],[.88,[-.37,-.2,-.02,.16,.34,.5]],[.72,[-.48,-.3,-.12,.06,.24,.42,.58]],[.56,[-.62,-.44,-.26,-.08,.1,.28,.46,.64,.78]],[.4,[-.72,-.54,-.36,-.18,0,.18,.36,.54,.72,.86]],[.24,[-.76,-.58,-.4,-.22,-.04,.14,.32,.5,.68,.82]],[.08,[-.76,-.58,-.4,-.22,-.04,.14,.32,.5,.68]],[-.08,[-.7,-.52,-.34,-.16,.02,.2,.38,.56,.66]],[-.24,[-.76,-.58,-.4,-.22,-.04,.14,.32,.5,.62]],[-.4,[-.7,-.52,-.34,-.16,.02,.2,.38,.56]],[-.56,[-.66,-.48,-.3,-.12,.06,.24,.42]],[-.72,[-.58,-.4,-.22,-.04,.14,.32,.46]],[-.88,[-.46,-.28,-.1,.08,.26,.4]],[-1.04,[-.32,-.14,.04,.22]],[-1.2,[-.2,-.02,.16]],[-1.34,[-.1,.08]]];

const pointsF = [[.37,3.97],[.69,3.83],[.33,3.12],[-.04,2.36],[-.98,2.39],[-1.4,2.31],[-2.62,2.12],[-2.77,1.95],[-.66,2.12],[-.54,2.14],[-.42,2.09],[.16,2.18],[.27,2.18],[.45,2.18],[-.96,1.9],[-.81,1.77],[-.99,1.68],[-.87,1.6],[-.55,1.85],[-.4,1.73],[-.57,1.51],[.44,1.9],[.49,1.73],[.81,1.87],[1.13,1.77],[1.57,1.73],[2.19,2.06],[2,1.98],[3.13,1.98],[2.92,1.68],[2.89,1.44],[2.62,1.3],[2.46,1.25],[2.78,1.13],[1.27,1.51],[1.46,1.36],[1.35,1.2],[1.07,1.47],[.88,1.47],[.66,1.44],[.3,1.47],[1.05,1.34],[.99,1.26],[.44,1.26],[.6,1.17],[.79,1.03],[.94,1.01],[1.19,.87],[1.5,.96],[1.57,.96],[2.13,.89],[2.28,.87],[2,.71],[2.33,.62],[1.5,.58],[1.66,.58],[1.85,.54],[1.33,.58],[2.28,.35],[2.61,.49],[.99,.79],[1.05,.62],[1.66,.28],[1.94,.16],[2.17,.13],[1.55,.03],[1.55,-.1],[1.27,.11],[1.33,-.05],[1.1,-.18],[1.08,-.31],[1.52,-.22],[1.66,-.36],[1.66,-.65],[1.81,-.92],[2,-.73],[2.65,-.16],[2.78,-.14],[1.05,-.95],[.99,-1.16],[1.03,-1.2],[.71,-1.17],[.83,-1.35],[1.66,-1.43],[1.66,-1.56],[2.03,-1.33],[2.03,-1.62],[1.31,-1.71],[.96,-1.82],[.58,-1.6],[.71,-1.6],[.32,-1.45],[.44,-1.58],[.27,-1.62],[.55,-1.92],[.38,-1.79],[.32,-1.92],[.69,-2.18],[1.92,-2.2],[1.33,-2.39],[-3.92,-.46],[-3.65,-.22],[-2.8,-.03],[-2.66,-.38],[-2.75,.59],[-2.3,.56],[-2.01,-.08],[-1.98,-.67],[-1.82,-.54],[-1.74,.06],[-1.72,-.12],[-1.55,-.12],[-1.57,-.48],[-1.41,-.6],[-1.44,.06],[-1.72,.65],[-1.63,.92],[-1.35,.88],[-1.72,1.17],[-1.6,1.2],[-1.36,1.2],[-1.16,1.03],[-1.07,.92],[-1.24,.62],[-1.15,.71],[-1.63,.39],[-1.37,.41],[-1.6,.24],[-1.41,.27],[-1.46,.07],[-1.13,.11],[-1.02,.03],[-1.24,-.39],[-1.13,-.56],[-1.07,-.82],[-1.18,-1.19],[-.93,-1.29],[-.74,-1.33],[-.51,-1.34],[-.4,-1.2],[-2.68,-1.22],[-2.12,-1.33],[-2.27,-1.57],[-1.56,-1.82],[-7.87,-1.19],[-9.2,-2.63],[-9.02,-3.74],[-9.16,-4.31],[-5.27,-3.4],[-.85,.71],[-.79,.45],[-.85,.58],[-.51,1.05],[-.54,1.01],[-.29,.96],[-.35,1.3],[-.23,1.56],[-.12,1.6],[.04,1.64],[.16,1.9],[-.01,1.81],[.1,2.02],[.27,1.43],[-.74,-2.11],[-.63,-2.02],[-.42,-1.82],[-.4,-1.96],[-.23,-2.13],[-.23,-2.18],[-.03,-2.31],[.04,-2.13],[-.07,-1.92],[.16,-2.09],[-.23,-1.79],[-.57,-2.45],[-.35,-2.57],[-.01,-2.63],[.12,-2.56],[-1.06,-2.69],[-.62,-2.79],[-.48,-2.83],[-.35,-2.94],[-.48,-3.07],[.01,-3.12],[-.93,-3.07],[-1.02,-3.19],[-.89,-3.2],[-1.07,-3.43],[-.68,-3.47],[.13,-3.4],[.08,-3.47],[.04,-3.72],[.64,-4.78],[-.2,1.35],[.05,1.4],[.15,1.3],[-.1,-1.4],[.05,-1.55],[-.15,-1.6],[.15,-1.45],[.8,.5],[.9,.2],[.85,-.55],[.75,-.8]];
const haloF = [[1.5,[-.4,-.15,.1,.3,.5]],[1.35,[-.5,-.25,.35,.55]],[1.2,[-.45,.35,.75]],[1.05,[-.6,.5,.85]],[.9,[-.75,-.6,.75,.95]],[.7,[-.85,-.7,.85,1.05]],[.55,[-1,-.9,.9,1.1]],[.35,[-1.1,-.95,1,1.2]],[.2,[-1.15,1,1.2]],[0,[-1.2,-1.05,1.05,1.2]],[-.2,[-1.2,1,1.15]],[-.4,[-1.15,1,1.1]],[-.6,[-1.1,-1,.9,1.05]],[-.8,[-1.1,-.9,.85,.95]],[-.95,[-.95,-.7,.5,.7]],[-1.1,[-.7,-.5,.35,.55]],[-1.3,[-.45,-.25,.25,.4]]];
const coreF = [[1.2,[-.15,.03,.21]],[1.04,[-.32,-.14,.04,.22,.4]],[.88,[-.45,-.27,-.09,.09,.27,.45,.6]],[.72,[-.55,-.37,-.19,-.01,.17,.35,.53,.7]],[.56,[-.7,-.52,-.34,-.16,.02,.2,.38,.56,.74]],[.4,[-.82,-.64,-.46,-.28,-.1,.08,.26,.44,.62,.8]],[.24,[-.9,-.72,-.54,-.36,-.18,0,.18,.36,.54,.72,.86]],[.08,[-.95,-.77,-.59,-.41,-.23,-.05,.13,.31,.49,.67,.85]],[-.08,[-1,-.82,-.64,-.46,-.28,-.1,.08,.26,.44,.62,.78]],[-.24,[-1,-.82,-.64,-.46,-.28,-.1,.08,.26,.44,.62,.78]],[-.4,[-.95,-.77,-.59,-.41,-.23,-.05,.13,.31,.49,.67,.8]],[-.56,[-.9,-.72,-.54,-.36,-.18,0,.18,.36,.54,.7]],[-.72,[-.85,-.64,-.46,-.28,-.1,.08,.26,.44,.62,.74]],[-.88,[-.55,-.37,-.19,-.01,.17,.35]],[-1.04,[-.35,-.17,.01,.19]],[-1.2,[-.2,-.02,.16]],[-1.36,[-.08,.1]]];

const pointsG = [[.4,3.99],[.69,3.82],[.31,3.14],[-.04,2.37],[-.78,2.4],[-1.41,2.3],[-2.63,2.13],[-2.78,1.97],[-.51,2.16],[-.42,2.11],[-.57,2.15],[.15,2.17],[.31,2.17],[.48,2.17],[-.96,1.92],[-.96,1.71],[-.87,1.59],[-.48,1.85],[-.62,1.74],[-.36,1.74],[-.55,1.53],[.48,1.92],[.51,1.75],[.8,1.88],[1.05,1.75],[1.6,1.75],[2.22,2.08],[1.98,1.97],[3.18,1.99],[2.98,1.69],[2.92,1.45],[2.68,1.29],[2.47,1.26],[2.81,1.14],[1.3,1.51],[1.63,1.36],[1.36,1.2],[1.11,1.48],[.91,1.48],[.72,1.45],[.4,1.45],[1.05,1.33],[.96,1.25],[.48,1.25],[.65,1.18],[.8,1.03],[.93,.97],[1.21,.88],[1.5,.92],[1.61,.97],[2.17,.92],[2.34,.88],[2,.73],[2.37,.62],[1.53,.58],[1.7,.6],[1.89,.55],[1.38,.55],[2.24,.34],[2.65,.49],[1.05,.81],[1.1,.64],[1.72,.25],[2.06,.16],[2.22,.14],[1.61,.03],[1.59,-.1],[1.29,-.05],[1.33,.12],[1.1,-.27],[1.53,-.23],[1.66,-.36],[1.66,-.64],[1.6,-.92],[1.98,-.73],[2.68,-.16],[2.82,-.13],[1.07,-.97],[1.01,-1.14],[.73,-1.18],[.84,-1.35],[1.66,-1.44],[1.66,-1.57],[2.07,-1.33],[1.98,-1.63],[1.27,-1.72],[.98,-1.85],[.48,-1.59],[.65,-1.61],[.73,-1.61],[.57,-1.93],[.7,-2.2],[1.96,-2.2],[1.34,-2.4],[.31,-1.92],[.31,-1.7],[.2,-1.44],[-3.93,-.46],[-3.66,-.21],[-2.61,-.03],[-2.67,-.37],[-2.74,.61],[-2.07,.58],[-2.01,-.07],[-1.84,-.53],[-1.78,-.68],[-1.6,-.49],[-1.77,.08],[-1.73,-.11],[-1.54,-.11],[-1.69,.63],[-1.62,.9],[-1.32,.88],[-1.73,1.18],[-1.54,1.22],[-1.35,1.2],[-1.12,1.03],[-1.03,.94],[-1.2,.64],[-1.6,.38],[-1.35,.42],[-1.62,.25],[-1.43,.25],[-1.34,.1],[-1.11,.14],[-1.26,-.14],[-1.2,-.36],[-1.32,-.63],[-1.03,-.83],[-1.19,-1.19],[-.89,-1.27],[-.81,-1.27],[-.55,-1.35],[-.3,-1.22],[-.81,-1.05],[-2.7,-1.22],[-2.13,-1.36],[-2.27,-1.57],[-1.57,-1.82],[-7.92,-1.2],[-9.28,-2.67],[-9.1,-3.76],[-9.22,-4.32],[-5.31,-3.4],[-.62,-2.09],[-.61,-1.98],[-.56,-1.83],[-.3,-1.96],[-.19,-2.13],[-.19,-2.2],[0,-2.31],[.09,-2.13],[-.02,-1.94],[-.13,-1.7],[-.54,-2.44],[-.28,-2.58],[-.08,-2.63],[.12,-2.56],[-1.08,-2.69],[-.61,-2.83],[-.44,-2.85],[-.34,-2.96],[-.46,-3.1],[.04,-3.13],[-.93,-3.09],[-.87,-3.17],[-.84,-3.24],[-.84,-3.43],[-.69,-3.48],[.17,-3.4],[.09,-3.49],[.01,-3.73],[.66,-4.82],[-.25,1.6],[-.1,1.65],[.05,1.6],[.1,1.8],[.2,1.95],[.05,2],[.3,1.85],[.2,1.55],[-.15,-1.45],[.05,-1.55],[-.05,-1.75],[.1,-1.8],[.85,.6],[.95,.3],[.9,-.7],[.8,-.85]];
const haloG = [[1.6,[-.35,.3,.55]],[1.45,[-.45,.35,.5]],[1.3,[-.5,.5,.7]],[1.15,[-.6,.55,.8]],[1,[-.7,.7,.85]],[.85,[-.75,.75,.95]],[.7,[-.9,.85,1]],[.55,[-1,.9,1.1]],[.35,[-1.05,1,1.2]],[.2,[-1.1,1.05,1.25]],[0,[-1.1,1.05,1.25]],[-.2,[-1.15,1.05,1.2]],[-.4,[-1.1,-1,.95,1.1]],[-.6,[-1.05,-.95,.9,1.05]],[-.8,[-.95,-.8,.85,.95]],[-.95,[-.8,-.6,.55,.7]],[-1.1,[-.6,-.4,.35,.5]],[-1.3,[-.4,.2,.35]]];
const coreG = [[1.4,[-.16,.02,.2]],[1.24,[-.3,-.12,.06,.24,.38]],[1.08,[-.42,-.24,-.06,.12,.3,.5]],[.92,[-.52,-.34,-.16,.02,.2,.38,.56]],[.76,[-.62,-.44,-.26,-.08,.1,.28,.46,.64]],[.6,[-.72,-.54,-.36,-.18,0,.18,.36,.54,.7]],[.44,[-.8,-.62,-.44,-.26,-.08,.1,.28,.46,.64,.8]],[.28,[-.85,-.67,-.49,-.31,-.13,.05,.23,.41,.59,.77]],[.12,[-.9,-.72,-.54,-.36,-.18,0,.18,.36,.54,.72,.88]],[-.04,[-.9,-.72,-.54,-.36,-.18,0,.18,.36,.54,.72,.88]],[-.2,[-.88,-.7,-.52,-.34,-.16,.02,.2,.38,.56,.74,.86]],[-.36,[-.85,-.67,-.49,-.31,-.13,.05,.23,.41,.59,.77]],[-.52,[-.8,-.62,-.44,-.26,-.08,.1,.28,.46,.64,.78]],[-.68,[-.72,-.54,-.36,-.18,0,.18,.36,.54,.72]],[-.84,[-.5,-.32,-.14,.04,.22,.4]],[-1,[-.36,-.18,0,.18,.32]],[-1.16,[-.22,-.04,.14]],[-1.3,[-.1,.08]]];

// regression line ends
const lineA = [[-4.45,-2.27],[2.59,1.33]];
const lineB = [[-3.74,-.24],[6.05,.4]];
const lineC = [[-9.17,-1.99],[4.86,1.06]];
const lineD = [[-9.23,-1.9],[4.29,.88]];
const lineE = [[-7.75,-1.39],[4.68,.83]];
const lineF = [[-9.25,-2.05],[3.17,.69]];
const lineG = [[-9.32,-2.1],[3.2,.72]];

const titles = ["(a) USFP(k=0)", "(b) ER(k=1)", "(c) SFA(k=1)", "(d) SFG(k=1)", "(e) SFN(k=1)", "(f) SFP(k=1)", "(g) SFS(k=1)"];
const xLabels = ["USFP(t-0)", "ER(t-1)", "SFA(t-1)", "SFG(t-1)", "SFN(t-1)", "SFP(t-1)", "SFS(t-1)"];
const xTickLists = [
    [-6, -4, -2, 0, 2, 4],
    [-4, -2, 0, 2, 4, 6, 8],
    [-10, -8, -6, -4, -2, 0, 2, 4, 6],
    [-10, -8, -6, -4, -2, 0, 2, 4, 6],
    [-8, -6, -4, -2, 0, 2, 4, 6],
    [-10, -8, -6, -4, -2, 0, 2, 4],
    [-10, -8, -6, -4, -2, 0, 2, 4]
];
const yTicks = [-4, -2, 0, 2, 4];
const yDomain = [-5.2, 4.43];

const allPoints = [pointsA, pointsB, pointsC, pointsD, pointsE, pointsF, pointsG];
const allHalos = [haloA, haloB, haloC, haloD, haloE, haloF, haloG];
const allCores = [coreA, coreB, coreC, coreD, coreE, coreF, coreG];
const allLines = [lineA, lineB, lineC, lineD, lineE, lineF, lineG];

// layout
const colLeft = [220.5, 1539, 2857];
const rowTop = [119, 1221, 2323];
const panelW = 1065;
const panelH = 797;
const fontSize = 60.5;
const dotFill = "rgba(0,115,170,0.6)";
const dotStroke = "rgba(0,130,192,0.9)";
const lineColor = "#0079ba";

const svg = d3.select("#chart");

// dense parts are kept as rows of [y, [x...]]
function unrow(rows) {
    return rows.flatMap(r => r[1].map(v => [v, r[0]]));
}

titles.forEach(function(title, i) {
    const g = svg.append("g")
        .attr("transform", `translate(${colLeft[i % 3]},${rowTop[Math.floor(i / 3)]})`);

    const xTicks = xTickLists[i];
    const x = d3.scaleLinear().domain(d3.extent(xTicks)).range([0, panelW]);
    const y = d3.scaleLinear().domain(yDomain).range([panelH, 0]);

    g.selectAll("circle.dot")
        .data(allPoints[i].concat(unrow(allHalos[i])))
        .join("circle")
        .attr("class", "dot")
        .attr("cx", d => x(d[0]))
        .attr("cy", d => y(d[1]))
        .attr("r", 6.5)
        .attr("fill", dotFill)
        .attr("stroke", dotStroke)
        .attr("stroke-width", 4);

    // the overlapped middle reads as one solid colour
    g.selectAll("circle.core")
        .data(unrow(allCores[i]))
        .join("circle")
        .attr("class", "core")
        .attr("cx", d => x(d[0]))
        .attr("cy", d => y(d[1]))
        .attr("r", 10.5)
        .attr("fill", lineColor);

    g.append("path")
        .datum(allLines[i])
        .attr("fill", "none")
        .attr("stroke", lineColor)
        .attr("stroke-width", 6)
        .attr("d", d3.line().x(d => x(d[0])).y(d => y(d[1])));

    // frame
    g.append("rect")
        .attr("width", panelW)
        .attr("height", panelH)
        .attr("fill", "none")
        .attr("stroke", "#111")
        .attr("stroke-width", 3.5);

    const xAxis = g.append("g")
        .attr("transform", `translate(0,${panelH})`)
        .call(d3.axisBottom(x).tickValues(xTicks).tickSize(18).tickPadding(18));
    const yAxis = g.append("g")
        .call(d3.axisLeft(y).tickValues(yTicks).tickSize(18).tickPadding(12));

    [xAxis, yAxis].forEach(function(a) {
        a.select(".domain").remove();
        a.selectAll("line").attr("stroke", "#111").attr("stroke-width", 3.5);
        a.selectAll("text")
            .attr("fill", "#111")
            .style("font-size", fontSize + "px")
            .style("font-family", '"Liberation Serif", serif');
    });

    g.append("text")
        .attr("x", panelW / 2)
        .attr("y", -28)
        .attr("text-anchor", "middle")
        .style("font-size", fontSize + "px")
        .text(title);

    g.append("text")
        .attr("x", panelW / 2)
        .attr("y", panelH + 155)
        .attr("text-anchor", "middle")
        .style("font-size", fontSize + "px")
        .text(xLabels[i]);

    g.append("text")
        .attr("transform", `translate(-128,${panelH / 2 + 5}) rotate(-90)`)
        .attr("text-anchor", "middle")
        .style("font-size", fontSize + "px")
        .text("CSFP(t)");
});
</script>
</body>
</html>
